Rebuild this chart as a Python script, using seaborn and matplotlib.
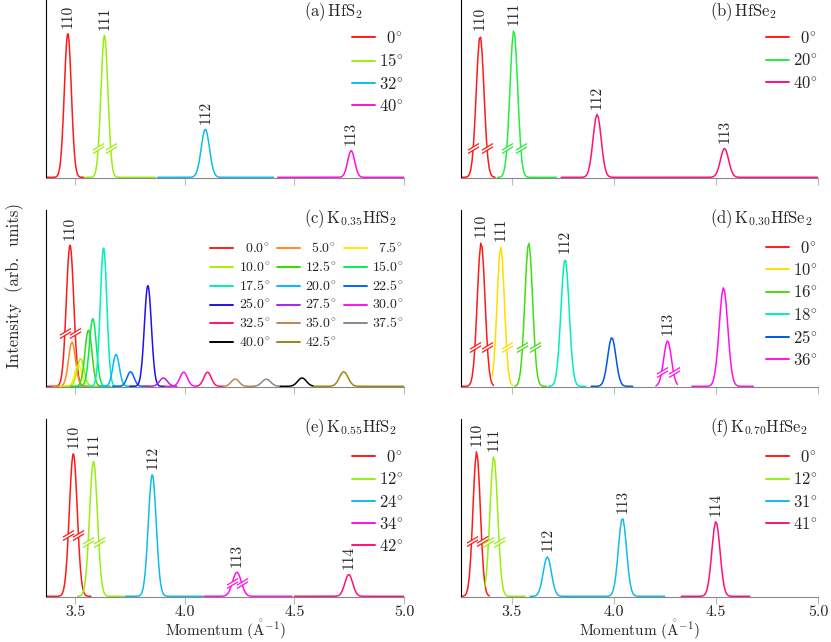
import numpy as np
import pandas as pd
import seaborn as sns
import matplotlib
matplotlib.use('agg')
import matplotlib.pyplot as plt
from matplotlib.lines import Line2D
from matplotlib.path import Path
from matplotlib.ticker import FixedLocator, FuncFormatter

# peak data: centre (1/A), height (fraction of panel), width (sigma)
# (a) HfS2
a_angles = ["0", "15", "32", "40"]
a_seg_angle = [0, 1, 2, 3]
a_centers = [[3.467], [3.634], [4.094], [4.759]]
a_heights = [[0.81], [0.80], [0.27], [0.15]]
a_sigmas = [0.016, 0.016, 0.019, 0.016]
a_spans = [(3.37, 3.54), (3.546, 3.865), (3.877, 4.405), (4.424, 5.0)]
a_breaks = [None, (0.168, "lr"), None, None]
a_hkl = [["110"], ["111"], ["112"], ["113"]]

# (b) HfSe2
b_angles = ["0", "20", "40"]
b_seg_angle = [0, 1, 2]
b_centers = [[3.345], [3.510], [3.918, 4.542]]
b_heights = [[0.80], [0.83], [0.355, 0.163]]
b_sigmas = [0.019, 0.019, 0.02]
b_spans = [(3.25, 3.418), (3.431, 3.72), (3.742, 5.0)]
b_breaks = [(0.168, "lr"), (0.168, "lr"), None]
b_hkl = [["110"], ["111"], ["112", "113"]]

# (c) K0.35HfS2
c_angles = ["0.0", "5.0", "7.5", "10.0", "12.5", "15.0", "17.5", "20.0", "22.5",
            "25.0", "27.5", "30.0", "32.5", "35.0", "37.5", "40.0", "42.5"]
c_seg_angle = list(range(17))
c_centers = [[3.477], [3.486], [3.515], [3.525], [3.561], [3.581], [3.630], [3.687], [3.753],
             [3.832], [3.903], [3.995], [4.104], [4.230], [4.372], [4.535], [4.725]]
c_heights = [[0.80], [0.25], [0.12], [0.155], [0.318], [0.383], [0.784], [0.18], [0.082],
             [0.571], [0.047], [0.08], [0.08], [0.041], [0.04], [0.047], [0.082]]
c_sigmas = [0.017, 0.016, 0.016, 0.016, 0.016, 0.016, 0.015, 0.015, 0.016,
            0.016, 0.018, 0.017, 0.017, 0.018, 0.02, 0.02, 0.02]
c_spans = [(3.37, 3.55), (3.40, 3.57), (3.43, 3.60), (3.44, 3.61), (3.48, 3.64), (3.50, 3.66),
           (3.55, 3.71), (3.61, 3.77), (3.67, 3.84), (3.75, 3.91), (3.81, 3.965), (3.91, 4.055),
           (4.055, 4.176), (4.176, 4.313), (4.313, 4.436), (4.436, 4.587), (4.587, 5.0)]
c_breaks = [(0.305, "lr")] + [None] * 16
c_hkl = [["110"]] + [[""]] * 16

# (d) K0.30HfSe2
d_angles = ["0", "10", "16", "18", "25", "36"]
d_seg_angle = [0, 1, 2, 3, 4, 5, 5]
d_centers = [[3.350], [3.446], [3.583], [3.761], [3.990], [4.263], [4.537]]
d_heights = [[0.816], [0.79], [0.816], [0.723], [0.277], [0.258], [0.559]]
d_sigmas = [0.019, 0.018, 0.019, 0.02, 0.02, 0.019, 0.021]
d_spans = [(3.25, 3.41), (3.405, 3.503), (3.515, 3.667), (3.68, 3.859), (3.889, 4.091),
           (4.206, 4.309), (4.382, 4.68)]
d_breaks = [(0.223, "lr"), (0.223, "r"), (0.223, "lr"), None, None, (0.079, "lr"), None]
d_hkl = [["110"], ["111"], [""], ["112"], [""], ["113"], [""]]

# (e) K0.55HfS2
e_angles = ["0", "12", "24", "34", "42"]
e_seg_angle = [0, 1, 2, 3, 4]
e_centers = [[3.492], [3.584], [3.852], [4.238], [4.748]]
e_heights = [[0.803], [0.76], [0.685], [0.135], [0.122]]
e_sigmas = [0.018, 0.018, 0.018, 0.02, 0.018]
e_spans = [(3.37, 3.572), (3.511, 3.721), (3.728, 4.083), (4.089, 4.489), (4.5, 5.0)]
e_breaks = [(0.347, "lr"), (0.304, "lr"), None, (0.075, "lr"), None]
e_hkl = [["110"], ["111"], ["112"], ["113"], ["114"]]

# (f) K0.70HfSe2
f_angles = ["0", "12", "31", "41"]
f_seg_angle = [0, 1, 2, 3]
f_centers = [[3.328], [3.412], [3.674, 4.042], [4.500]]
f_heights = [[0.816], [0.79], [0.222, 0.441], [0.422]]
f_sigmas = [0.018, 0.019, 0.02, 0.02]
f_spans = [(3.25, 3.389), (3.368, 3.562), (3.59, 4.251), (4.33, 4.668)]
f_breaks = [(0.313, "lr"), (0.304, "lr"), None, None]
f_hkl = [["110"], ["111"], ["112", "113"], ["114"]]

# colours per angle
a_colors = ["#ff1a1a", "#99ee11", "#11bbee", "#ff11dd"]
b_colors = ["#ff1a1a", "#22ee44", "#ff1177"]
c_colors = ["#ff1a1a", "#ff8822", "#ffee00", "#aaee00", "#33dd00", "#00ee55", "#00eebb",
            "#00bbff", "#0066ff", "#2211ee", "#aa22ee", "#ff11ee", "#ff1177", "#bb8855",
            "#888888", "#000000", "#998811"]
d_colors = ["#ff1a1a", "#ffdd00", "#44dd11", "#00eebb", "#0055ee", "#ff11ee"]
e_colors = ["#ff1a1a", "#99ee11", "#11bbee", "#ff11ee", "#ff1177"]
f_colors = ["#ff1a1a", "#99ee11", "#11bbee", "#ff1177"]

sns.set_style("ticks")
plt.rcParams['font.family'] = ['cmr10', 'DejaVu Serif']
plt.rcParams['mathtext.fontset'] = 'cm'
plt.rcParams['axes.unicode_minus'] = False
plt.rcParams['axes.formatter.use_mathtext'] = True

slash_path = Path([(-1, -0.9), (1, 0.3), (-1, -0.3), (1, 0.9)],
                  [Path.MOVETO, Path.LINETO, Path.MOVETO, Path.LINETO])
gap_path = Path([(-1, -0.9), (1, 0.3), (1, 0.9), (-1, -0.3), (-1, -0.9)],
                [Path.MOVETO, Path.LINETO, Path.LINETO, Path.LINETO, Path.CLOSEPOLY])


def degLabels(angles):
    n = max(len(a) for a in angles)
    return [r"$" + r"\enspace" * (n - len(a)) + a + r"^{\!\circ}$" for a in angles]


def rowMajor(items, ncol):
    # matplotlib fills legend columns first; reorder so entries read along rows
    nrow = -(-len(items) // ncol)
    out = []
    for c in range(ncol):
        for r in range(nrow):
            idx = r * ncol + c
            if idx < len(items):
                out.append(items[idx])
    return out


def drawPanel(ax, angles, colors, segAngle, centers, heights, sigmas, spans, breaks, hkl, step):
    frames = []
    for i, (lo, hi) in enumerate(spans):
        q = np.arange(lo, hi + step / 2, step)
        inten = np.zeros_like(q)
        for c, h in zip(centers[i], heights[i]):
            inten += h * np.exp(-0.5 * ((q - c) / sigmas[i]) ** 2)
        frames.append(pd.DataFrame({"q": q, "I": inten, "angle": angles[segAngle[i]], "seg": i}))
    df = pd.concat(frames, ignore_index=True)
    sns.lineplot(data=df, x="q", y="I", hue="angle", hue_order=angles,
                 palette=dict(zip(angles, colors)), units="seg", estimator=None,
                 sort=False, legend=False, lw=1.1, ax=ax)
    # broken-axis marks on the flanks
    for i, b in enumerate(breaks):
        if b is None:
            continue
        lev, sides = b
        c, h, s = centers[i][0], heights[i][0], sigmas[i]
        d = s * np.sqrt(2 * np.log(h / lev))
        xs = []
        if "l" in sides:
            xs.append(c - d)
        if "r" in sides:
            xs.append(c + d)
        col = colors[segAngle[i]]
        ax.plot(xs, [lev] * len(xs), ls="none", marker=gap_path, ms=8, mfc="white",
                mec="none", zorder=5)
        ax.plot(xs, [lev] * len(xs), ls="none", marker=slash_path, ms=8, mfc="none",
                mec=col, mew=0.9, zorder=6)
    # Miller indices above peaks
    for i, labs in enumerate(hkl):
        for lab, c, h in zip(labs, centers[i], heights[i]):
            if lab:
                ax.annotate(lab, (c, h), xytext=(0, 4), textcoords="offset points",
                            rotation=90, ha="center", va="bottom", fontsize=11)
    handles = [Line2D([], [], color=col, lw=1.4) for col in colors]
    return handles, degLabels(angles)


fig = plt.figure(figsize=(8.31, 6.42), dpi=100)
colX = [(0.0554, 0.4308), (0.5548, 0.4296)]
rowY = [(0.7227, 0.2773), (0.3972, 0.2757), (0.0701, 0.2773)]
xlims = [(3.3676, 5.0), (3.2515, 5.0)]

panels = [
    ("(a)", r"HfS$_2$", a_angles, a_colors, a_seg_angle, a_centers, a_heights, a_sigmas, a_spans, a_breaks, a_hkl),
    ("(b)", r"HfSe$_2$", b_angles, b_colors, b_seg_angle, b_centers, b_heights, b_sigmas, b_spans, b_breaks, b_hkl),
    ("(c)", r"K$_{0.35}$HfS$_2$", c_angles, c_colors, c_seg_angle, c_centers, c_heights, c_sigmas, c_spans, c_breaks, c_hkl),
    ("(d)", r"K$_{0.30}$HfSe$_2$", d_angles, d_colors, d_seg_angle, d_centers, d_heights, d_sigmas, d_spans, d_breaks, d_hkl),
    ("(e)", r"K$_{0.55}$HfS$_2$", e_angles, e_colors, e_seg_angle, e_centers, e_heights, e_sigmas, e_spans, e_breaks, e_hkl),
    ("(f)", r"K$_{0.70}$HfSe$_2$", f_angles, f_colors, f_seg_angle, f_centers, f_heights, f_sigmas, f_spans, f_breaks, f_hkl),
]

for k, p in enumerate(panels):
    row, col = divmod(k, 2)
    x0, w = colX[col]
    y0, h = rowY[row]
    ax = fig.add_axes([x0, y0, w, h])
    step = 0.002 if col == 0 else 0.007
    handles, labels = drawPanel(ax, *p[2:], step=step)
    ax.set_xlim(*xlims[col])
    ax.set_ylim(-0.004, 1.0)
    for s in ["top", "right"]:
        ax.spines[s].set_visible(False)
    ax.spines["left"].set_color("black")
    ax.spines["left"].set_linewidth(0.8)
    ax.spines["bottom"].set_color("#888888")
    ax.spines["bottom"].set_linewidth(0.8)
    ax.set_yticks([])
    ax.xaxis.set_major_locator(FixedLocator([3.5, 4.0, 4.5, 5.0]))
    ax.xaxis.set_major_formatter(FuncFormatter(lambda v, pos: "%.1f" % v))
    ax.tick_params(axis="x", direction="out", length=5, width=0.8, color="#bbbbbb",
                   labelsize=11.5, pad=1, labelbottom=(row == 2))
    ax.set_ylabel("")
    ax.set_xlabel("")
    if row == 2:
        fig.text(x0 + w / 2, 0.0, r"Momentum ($\mathring{\mathrm{A}}^{\mathrm{-1}}$)",
                 ha="center", va="bottom", fontsize=11)
    tx = 0.72 if col == 0 else 0.697
    ty = 0.935 if row == 0 else 0.95
    ax.text(tx, ty, p[0] + r"$\,$" + p[1], transform=ax.transAxes, ha="left",
            va="center", fontsize=12)
    if k == 2:
        ax.legend(rowMajor(handles, 3), rowMajor(labels, 3), loc="upper right",
                  bbox_to_anchor=(1.0, 0.82), ncol=3, frameon=False, fontsize=10,
                  handlelength=1.65, handletextpad=0.4, columnspacing=0.47,
                  labelspacing=0.33, borderpad=0, borderaxespad=0)
    else:
        ax.legend(handles, labels, loc="upper right", bbox_to_anchor=(1.0, 0.83),
                  frameon=False, fontsize=12, handlelength=1.4, handletextpad=0.25,
                  labelspacing=0.37, borderpad=0, borderaxespad=0)

fig.text(0.018, 0.556, "Intensity  (arb.  units)", rotation=90, ha="center", va="center",
         fontsize=12)

fig.savefig("out.png", dpi=100)
